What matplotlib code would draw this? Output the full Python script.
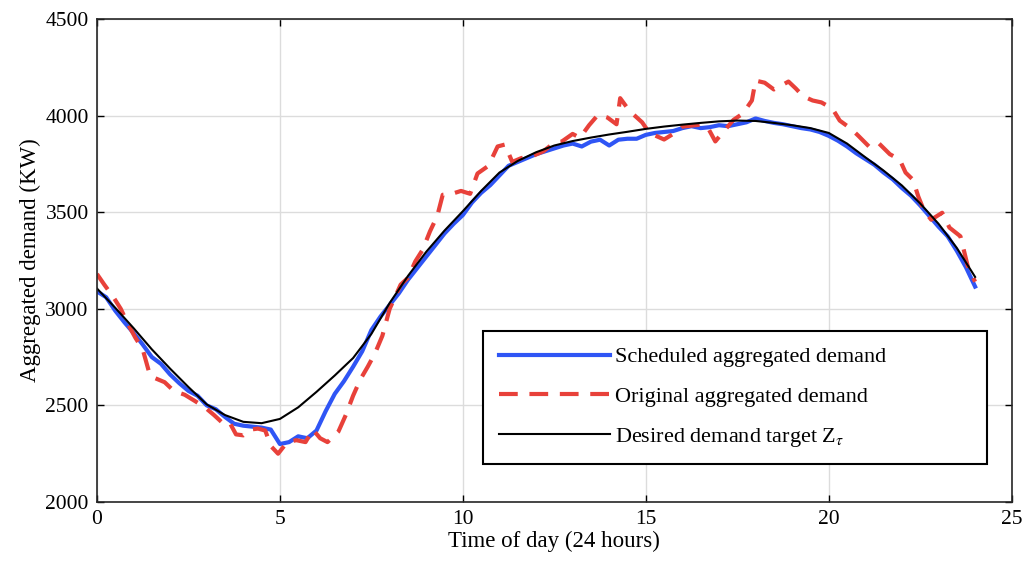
import numpy as np
import matplotlib.pyplot as plt

plt.rcParams['font.family'] = ['Liberation Serif', 'DejaVu Serif']
plt.rcParams['mathtext.fontset'] = 'stix'

# desired demand target (black)
target_x = [0, 0.5, 1, 1.5, 2, 2.5, 3, 3.5, 4, 4.5, 5, 5.5, 6, 6.5, 7, 7.5, 8, 8.5,
            9, 9.5, 10, 10.5, 11, 11.5, 12, 12.5, 13, 13.5, 14, 14.5, 15, 15.5, 16,
            16.5, 17, 17.5, 18, 18.5, 19, 19.5, 20, 20.5, 21, 21.5, 22, 22.5, 23,
            23.5, 24]
target_y = [3105, 3005, 2900, 2790, 2690, 2595, 2505, 2450, 2415, 2408, 2430, 2490,
            2570, 2655, 2745, 2870, 3030, 3170, 3295, 3405, 3505, 3610, 3705, 3765,
            3810, 3845, 3868, 3886, 3902, 3916, 3931, 3943, 3953, 3962, 3970, 3974,
            3972, 3962, 3950, 3935, 3910, 3855, 3784, 3715, 3638, 3545, 3440, 3315,
            3165]

# scheduled aggregated demand (blue), every quarter hour
sched_x = np.arange(0, 24.01, 0.25)
sched_y = [3090, 3060, 2990, 2930, 2875, 2815, 2750, 2715, 2660, 2615, 2575, 2550,
           2500, 2480, 2440, 2405, 2395, 2390, 2385, 2375, 2300, 2310, 2340, 2330,
           2370, 2470, 2560, 2625, 2700, 2780, 2890, 2960, 3020, 3080, 3150, 3210,
           3270, 3330, 3390, 3440, 3485, 3550, 3600, 3640, 3690, 3740, 3760, 3780,
           3800, 3815, 3830, 3845, 3855, 3840, 3865, 3875, 3845, 3875, 3880, 3880,
           3900, 3910, 3915, 3920, 3935, 3945, 3935, 3940, 3950, 3945, 3955, 3965,
           3985, 3972, 3962, 3955, 3945, 3935, 3928, 3915, 3895, 3870, 3840, 3805,
           3775, 3745, 3705, 3670, 3625, 3585, 3535, 3480, 3425, 3375, 3300, 3215,
           3115]

# original aggregated demand (red)
orig_x = [0, 0.2, 0.45, 0.65, 0.85, 1.05, 1.25, 1.45, 1.6, 1.85, 2.1, 2.4, 2.7, 2.95,
          3.2, 3.4, 3.6, 3.8, 4.0, 4.2, 4.4, 4.6, 4.75, 4.95, 5.2, 5.45, 5.7, 5.9,
          6.1, 6.3, 6.6, 6.8, 7.0, 7.2, 7.4, 7.6, 7.8, 8.0, 8.3, 8.5, 8.7, 8.9, 9.1,
          9.3, 9.45, 9.7, 9.95, 10.2, 10.4, 10.7, 10.95, 11.15, 11.35, 11.6, 11.9,
          12.2, 12.5, 12.7, 13.0, 13.2, 13.45, 13.7, 13.95, 14.2, 14.3, 14.55, 14.9,
          15.1, 15.5, 15.85, 16.0, 16.5, 16.7, 16.9, 17.1, 17.4, 17.65, 17.9, 18.0,
          18.25, 18.5, 18.65, 18.9, 19.1, 19.3, 19.56, 19.8, 20.1, 20.3, 20.6, 20.8,
          21.1, 21.35, 21.67, 21.94, 22.1, 22.3, 22.45, 22.6, 22.8, 23.1, 23.3, 23.6,
          23.8, 24.0]
orig_y = [3180, 3125, 3060, 3000, 2920, 2850, 2790, 2655, 2640, 2620, 2575, 2555,
          2520, 2490, 2450, 2415, 2420, 2350, 2345, 2375, 2380, 2370, 2290, 2250,
          2310, 2320, 2310, 2375, 2330, 2310, 2365, 2450, 2550, 2635, 2700, 2770,
          2860, 3000, 3125, 3160, 3245, 3305, 3400, 3480, 3590, 3595, 3610, 3595,
          3700, 3740, 3840, 3850, 3760, 3780, 3790, 3815, 3860, 3865, 3905, 3885,
          3950, 4005, 3990, 3955, 4090, 4025, 3965, 3910, 3876, 3917, 3943, 3953,
          3936, 3866, 3912, 3978, 4010, 4078, 4181, 4170, 4135, 4150, 4176, 4140,
          4100, 4078, 4068, 4036, 3974, 3933, 3897, 3840, 3860, 3800, 3772, 3705,
          3668, 3580, 3510, 3461, 3497, 3420, 3375, 3220, 3140]

fig = plt.figure(figsize=(10.25, 5.67), dpi=100)
ax = fig.add_axes([0.0946, 0.1146, 0.8924, 0.852])

ax.plot(sched_x, sched_y, color='#2f55f5', lw=3, label='Scheduled aggregated demand')
ax.plot(orig_x, orig_y, color='#e8413a', lw=3, dashes=(4.5, 2.8), label='Original aggregated demand')
ax.plot(target_x, target_y, color='black', lw=1.5, label=r'Desired demand target Z$_{\tau}$')

ax.set_xlim(0, 25)
ax.set_ylim(2000, 4500)
ax.set_xticks([0, 5, 10, 15, 20, 25])
ax.set_yticks([2000, 2500, 3000, 3500, 4000, 4500])
ax.grid(True, color='#dcdcdc', lw=1)
ax.set_axisbelow(True)
ax.tick_params(direction='in', top=True, right=True, labelsize=15.5, length=5, width=1, pad=6)
for s in ax.spines.values():
    s.set_linewidth(1.2)
    s.set_color('#262626')

ax.set_xlabel('Time of day (24 hours)', fontsize=16.5, labelpad=1)
ax.set_ylabel('Aggregated demand (KW)', fontsize=16.5, labelpad=3)

leg = ax.legend(loc='lower left', bbox_to_anchor=(0.41, 0.055, 0.575, 0.285), mode='expand',
                fontsize=16, handlelength=5.0, borderpad=0.7, labelspacing=0.85,
                handletextpad=0.25, fancybox=False, framealpha=1)
leg.get_frame().set_edgecolor('black')
leg.get_frame().set_linewidth(1.5)

fig.savefig('out.png', dpi=100)
